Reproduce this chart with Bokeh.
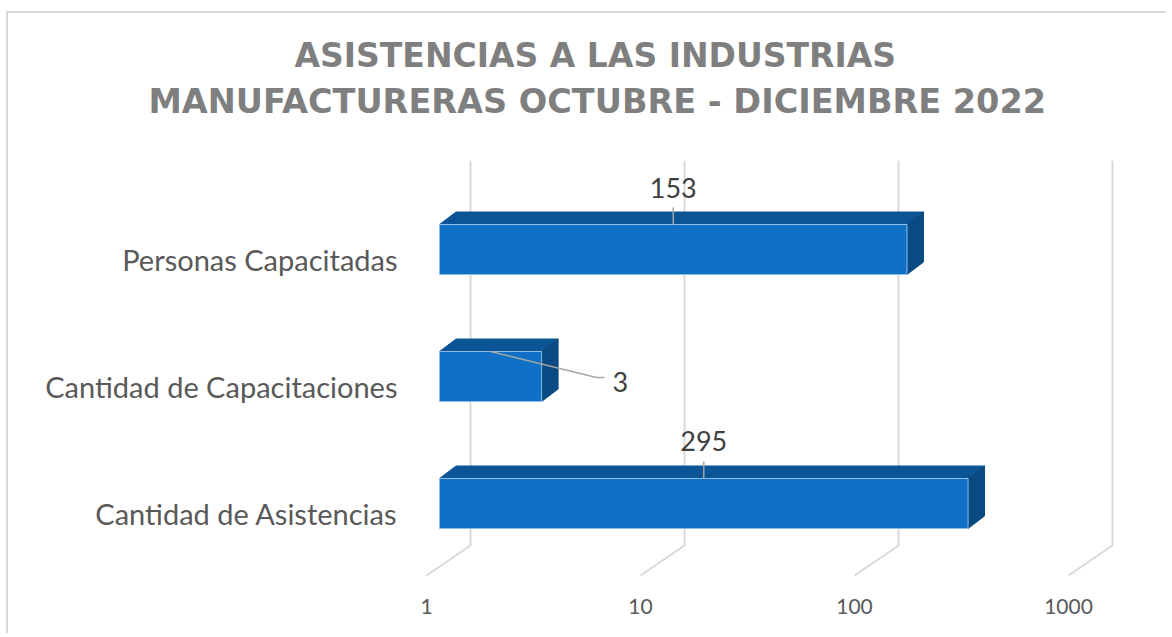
import numpy as np
from bokeh.plotting import figure
from bokeh.models import (Range1d, LinearAxis, LogAxis, FixedTicker, BasicTickFormatter,
                          Title, ColumnDataSource, LogScale, LinearScale)
from bokeh.core.properties import value
from bokeh.embed import file_html
from bokeh.resources import INLINE

# ---------------- data ----------------
categories = ["Cantidad de Asistencias", "Cantidad de Capacitaciones", "Personas Capacitadas"]
values = [295, 3, 153]
x_ticks = [1, 10, 100, 1000]
x_tick_labels = ["1", "10", "100", "1000"]
title_lines = ["ASISTENCIAS A LAS INDUSTRIAS", "MANUFACTURERAS OCTUBRE - DICIEMBRE 2022"]

# ---------------- geometry / style ----------------
DEC = 214.0          # px per decade
UNIT = 127.0         # px per category step
FRAME_W, FRAME_H = 740, 420
ORIGIN_PX = 29       # px from frame left where value 1 lies (bar plane)
BOTTOM_PX = 77       # px from frame bottom to first category centre
BAR_HALF = 25 / UNIT
DX = 10 ** (16.5 / DEC)     # 3D depth (x, multiplicative on log axis)
DY = 12.5 / UNIT            # 3D depth (y)
LABEL_SHIFT = 9.5 / UNIT    # category label sits a little below bar centre
FRONT_SHIFT = 10 ** (-13 / DEC)
BACK_SHIFT = 10 ** (31 / DEC)

xmin = 10 ** (-ORIGIN_PX / DEC)
xmax = 10 ** ((FRAME_W - ORIGIN_PX) / DEC)
ylo = -BOTTOM_PX / UNIT
yhi = ylo + FRAME_H / UNIT
floor_front = ylo + 5 / UNIT
floor_back = ylo + 35 / UNIT

FRONT_COL = "#1070c6"
TOP_COL = "#0b5496"
SIDE_COL = "#0a4a82"
GRID_COL = "#d9d9d9"

p = figure(width=1160, height=622, x_axis_type="log",
           x_range=Range1d(xmin, xmax), y_range=Range1d(ylo, yhi),
           x_axis_location=None, y_axis_location=None,
           output_backend="svg", toolbar_location=None,
           min_border_left=402, min_border_right=18,
           min_border_top=147, min_border_bottom=55)
p.grid.visible = False
p.outline_line_color = None
p.background_fill_color = "white"
p.border_fill_color = "white"
p.styles = {"margin-left": "6px", "margin-top": "11px",
            "border-left": "2px solid #d9d9d9", "border-top": "2px solid #d9d9d9"}

# extra ranges for front floor axis and category labels
p.extra_x_ranges = {"front": Range1d(xmin / FRONT_SHIFT, xmax / FRONT_SHIFT)}
p.extra_x_scales = {"front": LogScale()}
p.extra_y_ranges = {"cat": Range1d(ylo + LABEL_SHIFT, yhi + LABEL_SHIFT)}
p.extra_y_scales = {"cat": LinearScale()}

# ---------------- gridlines (back wall + floor) ----------------
gx = [[t * BACK_SHIFT, t * BACK_SHIFT, t * FRONT_SHIFT] for t in x_ticks]
gy = [[yhi, floor_back, floor_front] for t in x_ticks]
p.multi_line(gx, gy, line_color=GRID_COL, line_width=2)

# ---------------- bars ----------------
idx = list(range(len(categories)))
src = ColumnDataSource(dict(
    left=[1] * len(values), right=values,
    bottom=[i - BAR_HALF for i in idx], top=[i + BAR_HALF for i in idx]))
top_xs = [[1, v, v * DX, DX] for v in values]
top_ys = [[i + BAR_HALF, i + BAR_HALF, i + BAR_HALF + DY, i + BAR_HALF + DY] for i in idx]
side_xs = [[v, v * DX, v * DX, v] for v in values]
side_ys = [[i - BAR_HALF, i - BAR_HALF + DY, i + BAR_HALF + DY, i + BAR_HALF] for i in idx]
p.patches(top_xs, top_ys, fill_color=TOP_COL, line_color=TOP_COL, line_width=1)
p.patches(side_xs, side_ys, fill_color=SIDE_COL, line_color=SIDE_COL, line_width=1)
p.quad(left="left", right="right", bottom="bottom", top="top", source=src,
       fill_color=FRONT_COL, line_color="#8fbce8", line_width=1)

# ---------------- data labels + leader lines ----------------
lab_dx = [0, 122, 0]          # px offsets of label from anchor
lab_dy = [-38, 30, -37]
lab_align = ["center", "left", "center"]
leaders = [[(0, 0), (0, -17)], [(0, 0), (106, 26), (114, 26)], [(0, 0), (0, -17)]]

mids = [np.sqrt(v) for v in values]
tops = [i + BAR_HALF for i in idx]
lx = [[m * 10 ** (dx / DEC) for dx, dy in path] for m, path in zip(mids, leaders)]
ly = [[t - dy / UNIT for dx, dy in path] for t, path in zip(tops, leaders)]
p.multi_line(lx, ly, line_color="#a6a6a6", line_width=1.5)

lsrc = ColumnDataSource(dict(
    x=[m * 10 ** (dx / DEC) for m, dx in zip(mids, lab_dx)],
    y=[t - dy / UNIT for t, dy in zip(tops, lab_dy)],
    text=[str(v) for v in values], align=lab_align))
p.text(x="x", y="y", text="text", source=lsrc, text_align="align", text_baseline="middle",
       text_font=value("Lato"), text_font_size="27px", text_color="#404040")

# ---------------- axes ----------------
xaxis = LogAxis(x_range_name="front", ticker=FixedTicker(ticks=x_ticks),
                formatter=BasicTickFormatter(),
                major_label_overrides=dict(zip(x_ticks, x_tick_labels)))
xaxis.axis_line_color = None
xaxis.major_tick_line_color = None
xaxis.minor_tick_line_color = None
xaxis.major_tick_out = 0
xaxis.major_label_standoff = 18
xaxis.major_label_text_font = "Lato"
xaxis.major_label_text_font_size = "21px"
xaxis.major_label_text_color = "#595959"
p.add_layout(xaxis, "below")

yaxis = LinearAxis(y_range_name="cat", ticker=FixedTicker(ticks=idx),
                   major_label_overrides={i: c for i, c in zip(idx, categories)})
yaxis.axis_line_color = None
yaxis.major_tick_line_color = None
yaxis.minor_tick_line_color = None
yaxis.major_tick_out = 0
yaxis.major_label_standoff = 13
yaxis.major_label_text_font = "Lato"
yaxis.major_label_text_font_size = "29px"
yaxis.major_label_text_color = "#595959"
p.add_layout(yaxis, "left")

# ---------------- title (two lines) ----------------
# invisible spacer between the plot area and the title lines (white tick on white)
spacer = LogAxis(ticker=FixedTicker(ticks=[1]), major_label_overrides={1: ""},
                 axis_line_color=None, major_tick_line_color="white",
                 minor_tick_line_color=None, major_tick_out=40, major_tick_in=0,
                 major_label_standoff=0, major_label_text_font_size="1px")
p.add_layout(spacer, "above")
t2 = Title(text=title_lines[1], align="left", offset=-262, text_font="DejaVu Sans",
           text_font_style="bold", text_font_size="33.5px", text_color="#7f7f7f", standoff=0)
t1 = Title(text=title_lines[0], align="left", offset=-116, text_font="DejaVu Sans",
           text_font_style="bold", text_font_size="33px", text_color="#7f7f7f", standoff=10)
p.add_layout(t2, "above")
p.add_layout(t1, "above")

open("out.html", "w").write(file_html(p, INLINE))
